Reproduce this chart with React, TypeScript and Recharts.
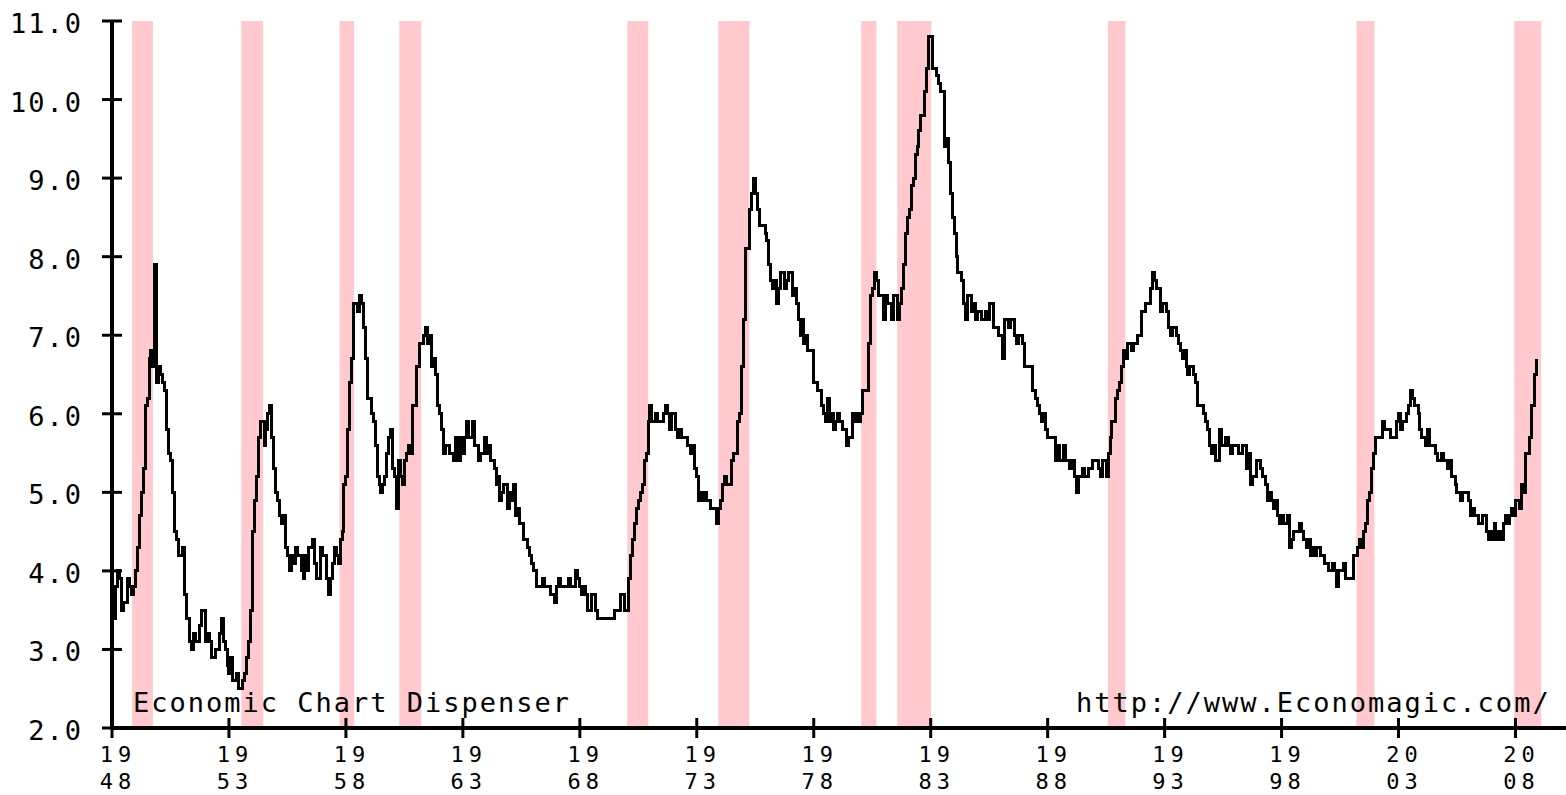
import React from 'react';
import { ComposedChart, Line, XAxis, YAxis, ReferenceArea } from 'recharts';

const START_YEAR = 1948;

// Monthly civilian unemployment rate (%), Jan 1948 onward
const rates1948to1957 = [
  3.4, 3.8, 4.0, 3.9, 3.5, 3.6, 3.6, 3.9, 3.8, 3.7, 3.8, 4.0,
  4.3, 4.7, 5.0, 5.3, 6.1, 6.2, 6.7, 6.8, 6.6, 7.9, 6.4, 6.6,
  6.5, 6.4, 6.3, 5.8, 5.5, 5.4, 5.0, 4.5, 4.4, 4.2, 4.2, 4.3,
  3.7, 3.4, 3.4, 3.1, 3.0, 3.2, 3.1, 3.1, 3.3, 3.5, 3.5, 3.1,
  3.2, 3.1, 2.9, 2.9, 3.0, 3.0, 3.2, 3.4, 3.1, 3.0, 2.8, 2.7,
  2.9, 2.6, 2.6, 2.7, 2.5, 2.5, 2.6, 2.7, 2.9, 3.1, 3.5, 4.5,
  4.9, 5.2, 5.7, 5.9, 5.9, 5.6, 5.8, 6.0, 6.1, 5.7, 5.3, 5.0,
  4.9, 4.7, 4.6, 4.7, 4.3, 4.2, 4.0, 4.2, 4.1, 4.3, 4.2, 4.2,
  4.0, 3.9, 4.2, 4.0, 4.3, 4.3, 4.4, 4.1, 3.9, 3.9, 4.3, 4.2,
  4.2, 3.9, 3.7, 3.9, 4.1, 4.3, 4.2, 4.1, 4.4, 4.5, 5.1, 5.2,
];
const rates1958to1967 = [
  5.8, 6.4, 6.7, 7.4, 7.4, 7.3, 7.5, 7.4, 7.1, 6.7, 6.2, 6.2,
  6.0, 5.9, 5.6, 5.2, 5.1, 5.0, 5.1, 5.2, 5.5, 5.7, 5.8, 5.3,
  5.2, 4.8, 5.4, 5.2, 5.1, 5.4, 5.5, 5.6, 5.5, 6.1, 6.1, 6.6,
  6.6, 6.9, 6.9, 7.0, 7.1, 6.9, 7.0, 6.6, 6.7, 6.5, 6.1, 6.0,
  5.8, 5.5, 5.6, 5.6, 5.5, 5.5, 5.4, 5.7, 5.6, 5.4, 5.7, 5.5,
  5.7, 5.9, 5.7, 5.7, 5.9, 5.6, 5.6, 5.4, 5.5, 5.5, 5.7, 5.5,
  5.6, 5.4, 5.4, 5.3, 5.1, 5.2, 4.9, 5.0, 5.1, 5.1, 4.8, 5.0,
  4.9, 5.1, 4.7, 4.8, 4.6, 4.6, 4.4, 4.4, 4.3, 4.2, 4.1, 4.0,
  4.0, 3.8, 3.8, 3.8, 3.9, 3.8, 3.8, 3.8, 3.7, 3.7, 3.6, 3.8,
  3.9, 3.8, 3.8, 3.8, 3.8, 3.9, 3.8, 3.8, 3.8, 4.0, 3.9, 3.8,
];
const rates1968to1977 = [
  3.7, 3.8, 3.7, 3.5, 3.5, 3.7, 3.7, 3.5, 3.4, 3.4, 3.4, 3.4,
  3.4, 3.4, 3.4, 3.4, 3.4, 3.5, 3.5, 3.5, 3.7, 3.7, 3.5, 3.5,
  3.9, 4.2, 4.4, 4.6, 4.8, 4.9, 5.0, 5.1, 5.4, 5.5, 5.9, 6.1,
  5.9, 5.9, 6.0, 5.9, 5.9, 5.9, 6.0, 6.1, 6.0, 5.8, 6.0, 6.0,
  5.8, 5.7, 5.8, 5.7, 5.7, 5.7, 5.6, 5.6, 5.5, 5.6, 5.3, 5.2,
  4.9, 5.0, 4.9, 5.0, 4.9, 4.9, 4.8, 4.8, 4.8, 4.6, 4.8, 4.9,
  5.1, 5.2, 5.1, 5.1, 5.1, 5.4, 5.5, 5.5, 5.9, 6.0, 6.6, 7.2,
  8.1, 8.1, 8.6, 8.8, 9.0, 8.8, 8.6, 8.4, 8.4, 8.4, 8.3, 8.2,
  7.9, 7.7, 7.6, 7.7, 7.4, 7.6, 7.8, 7.8, 7.6, 7.7, 7.8, 7.8,
  7.5, 7.6, 7.4, 7.2, 7.0, 7.2, 6.9, 7.0, 6.8, 6.8, 6.8, 6.4,
];
const rates1978to1987 = [
  6.4, 6.3, 6.3, 6.1, 6.0, 5.9, 6.2, 5.9, 6.0, 5.8, 5.9, 6.0,
  5.9, 5.9, 5.8, 5.8, 5.6, 5.7, 5.7, 6.0, 5.9, 6.0, 5.9, 6.0,
  6.3, 6.3, 6.3, 6.9, 7.5, 7.6, 7.8, 7.7, 7.5, 7.5, 7.5, 7.2,
  7.5, 7.4, 7.4, 7.2, 7.5, 7.5, 7.2, 7.4, 7.6, 7.9, 8.3, 8.5,
  8.6, 8.9, 9.0, 9.3, 9.4, 9.6, 9.8, 9.8, 10.1, 10.4, 10.8, 10.8,
  10.4, 10.4, 10.3, 10.2, 10.1, 10.1, 9.4, 9.5, 9.2, 8.8, 8.5, 8.3,
  8.0, 7.8, 7.8, 7.7, 7.4, 7.2, 7.5, 7.5, 7.3, 7.4, 7.2, 7.3,
  7.3, 7.2, 7.2, 7.3, 7.2, 7.4, 7.4, 7.1, 7.1, 7.1, 7.0, 7.0,
  6.7, 7.2, 7.2, 7.1, 7.2, 7.2, 7.0, 6.9, 7.0, 7.0, 6.9, 6.6,
  6.6, 6.6, 6.6, 6.3, 6.3, 6.2, 6.1, 6.0, 5.9, 6.0, 5.8, 5.7,
];
const rates1988to1997 = [
  5.7, 5.7, 5.7, 5.4, 5.6, 5.4, 5.4, 5.6, 5.4, 5.4, 5.3, 5.3,
  5.4, 5.2, 5.0, 5.2, 5.2, 5.3, 5.2, 5.2, 5.3, 5.3, 5.4, 5.4,
  5.4, 5.3, 5.2, 5.4, 5.4, 5.2, 5.5, 5.7, 5.9, 5.9, 6.2, 6.3,
  6.4, 6.6, 6.8, 6.7, 6.9, 6.9, 6.8, 6.9, 6.9, 7.0, 7.0, 7.3,
  7.3, 7.4, 7.4, 7.4, 7.6, 7.8, 7.7, 7.6, 7.6, 7.3, 7.4, 7.4,
  7.3, 7.1, 7.0, 7.1, 7.1, 7.0, 6.9, 6.8, 6.7, 6.8, 6.6, 6.5,
  6.6, 6.6, 6.5, 6.4, 6.1, 6.1, 6.1, 6.0, 5.9, 5.8, 5.6, 5.5,
  5.6, 5.4, 5.4, 5.8, 5.6, 5.6, 5.7, 5.7, 5.6, 5.5, 5.6, 5.6,
  5.6, 5.5, 5.5, 5.6, 5.6, 5.3, 5.5, 5.1, 5.2, 5.2, 5.4, 5.4,
  5.3, 5.2, 5.2, 5.1, 4.9, 5.0, 4.9, 4.8, 4.9, 4.7, 4.6, 4.7,
];
const rates1998to2008 = [
  4.6, 4.6, 4.7, 4.3, 4.4, 4.5, 4.5, 4.5, 4.6, 4.5, 4.4, 4.4,
  4.3, 4.4, 4.2, 4.3, 4.2, 4.3, 4.3, 4.2, 4.2, 4.1, 4.1, 4.0,
  4.0, 4.1, 4.0, 3.8, 4.0, 4.0, 4.0, 4.1, 3.9, 3.9, 3.9, 3.9,
  4.2, 4.2, 4.3, 4.4, 4.3, 4.5, 4.6, 4.9, 5.0, 5.3, 5.5, 5.7,
  5.7, 5.7, 5.7, 5.9, 5.8, 5.8, 5.8, 5.7, 5.7, 5.7, 5.9, 6.0,
  5.8, 5.9, 5.9, 6.0, 6.1, 6.3, 6.2, 6.1, 6.1, 6.0, 5.8, 5.7,
  5.7, 5.6, 5.8, 5.6, 5.6, 5.6, 5.5, 5.4, 5.4, 5.5, 5.4, 5.4,
  5.3, 5.4, 5.2, 5.2, 5.1, 5.0, 5.0, 4.9, 5.0, 5.0, 5.0, 4.9,
  4.7, 4.8, 4.7, 4.7, 4.6, 4.6, 4.7, 4.7, 4.5, 4.4, 4.5, 4.4,
  4.6, 4.5, 4.4, 4.5, 4.4, 4.6, 4.7, 4.6, 4.7, 4.8, 4.7, 4.9,
  4.9, 4.8, 5.1, 5.0, 5.5, 5.5, 5.7, 6.1, 6.1, 6.5, 6.7,
];

// Recession shading (decimal years)
const recessionStarts = [1948.86, 1953.53, 1957.73, 1960.28, 1970.03, 1973.92, 1980.03, 1981.57, 1990.57, 2001.2, 2007.95];
const recessionEnds = [1949.75, 1954.46, 1958.35, 1961.22, 1970.93, 1975.25, 1980.68, 1983.02, 1991.32, 2001.97, 2009.1];

const yTicks = [2, 3, 4, 5, 6, 7, 8, 9, 10, 11];
const xTicks = [1948, 1953, 1958, 1963, 1968, 1973, 1978, 1983, 1988, 1993, 1998, 2003, 2008];
const leftCaption = 'Economic Chart Dispenser';
const rightCaption = 'http://www.Economagic.com/';

const monthly = [
  ...rates1948to1957,
  ...rates1958to1967,
  ...rates1968to1977,
  ...rates1978to1987,
  ...rates1988to1997,
  ...rates1998to2008,
];
const data = monthly.map((v, i) => ({ t: START_YEAR + (i + 1) / 12, v }));

const FONT = '"DejaVu Sans Mono", "Liberation Mono", monospace';
const FS = 27;
const LS = 2;
const XFS = 22;
const XLS = 5;

const YTick = (props: any) => {
  const { x, y, payload } = props;
  return (
    <g>
      <line x1={x} x2={x + 20} y1={y} y2={y} stroke="#000" strokeWidth={3} />
      <text x={x - 19} y={y + 12} textAnchor="end" fontFamily={FONT} fontSize={FS} letterSpacing={LS} fill="#000">
        {Number(payload.value).toFixed(1)}
      </text>
    </g>
  );
};

const XTick = (props: any) => {
  const { x, y, payload } = props;
  const s = String(payload.value);
  return (
    <g>
      <line x1={x} x2={x} y1={y - 20} y2={y} stroke="#000" strokeWidth={3} />
      <text x={x + 6} y={y + 24} textAnchor="middle" fontFamily={FONT} fontSize={XFS} letterSpacing={XLS} fill="#000">
        {s.slice(0, 2)}
      </text>
      <text x={x + 6} y={y + 51} textAnchor="middle" fontFamily={FONT} fontSize={XFS} letterSpacing={XLS} fill="#000">
        {s.slice(2)}
      </text>
    </g>
  );
};

export default function App() {
  return (
    <div style={{ position: 'absolute', left: 0, top: 0, width: 1566, height: 795, background: '#fff' }}>
      <ComposedChart width={1566} height={795} data={data} margin={{ top: 21, right: 0, bottom: 0, left: 0 }}>
        {recessionStarts.map((s, i) => (
          <ReferenceArea
            key={i}
            x1={s}
            x2={recessionEnds[i]}
            fill="#ffc9ce"
            fillOpacity={1}
            stroke="none"
            ifOverflow="hidden"
          />
        ))}
        <XAxis
          type="number"
          dataKey="t"
          domain={[1948, 2010.16]}
          ticks={xTicks}
          allowDataOverflow
          height={67}
          tickSize={10}
          tickMargin={0}
          tickLine={false}
          axisLine={{ stroke: '#000', strokeWidth: 4 }}
          tick={<XTick />}
          interval={0}
        />
        <YAxis
          type="number"
          domain={[2, 11]}
          ticks={yTicks}
          width={112}
          tickSize={10}
          tickMargin={0}
          tickLine={false}
          axisLine={{ stroke: '#000', strokeWidth: 4 }}
          tick={<YTick />}
          interval={0}
        />
        <Line
          type="stepAfter"
          dataKey="v"
          stroke="#000"
          strokeWidth={3}
          dot={false}
          activeDot={false}
          isAnimationActive={false}
          shapeRendering="crispEdges"
        />
      </ComposedChart>
      <svg width={1566} height={795} style={{ position: 'absolute', left: 0, top: 0, pointerEvents: 'none' }}>
        <text x={133} y={712} fontFamily={FONT} fontSize={FS} letterSpacing={LS} fill="#000">{leftCaption}</text>
        <text x={1076} y={712} fontFamily={FONT} fontSize={FS} letterSpacing={LS} fill="#000">{rightCaption}</text>
      </svg>
    </div>
  );
}
